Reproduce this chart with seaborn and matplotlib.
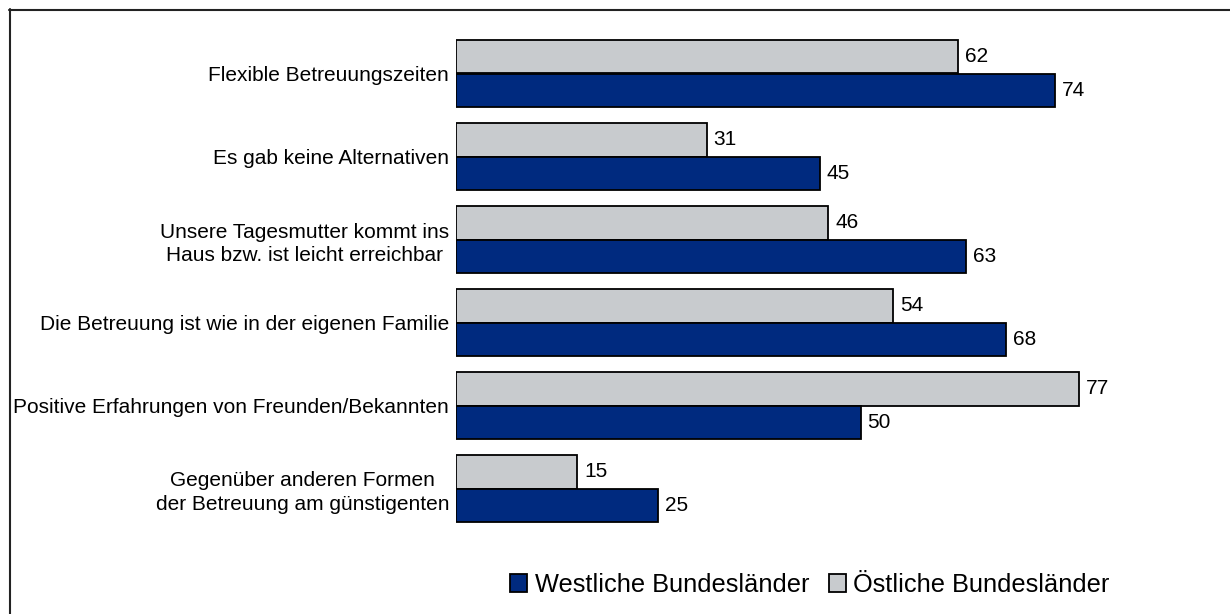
import numpy as np
import pandas as pd
import matplotlib
matplotlib.use("Agg")
import matplotlib.pyplot as plt
from matplotlib.patches import Patch
from matplotlib.lines import Line2D
import seaborn as sns

# ── DATA ────────────────────────────────────────────────────
categories = [
    "Flexible Betreuungszeiten",
    "Es gab keine Alternativen",
    "Unsere Tagesmutter kommt ins\nHaus bzw. ist leicht erreichbar",
    "Die Betreuung ist wie in der eigenen Familie",
    "Positive Erfahrungen von Freunden/Bekannten",
    "Gegenüber anderen Formen\nder Betreuung am günstigenten",
]
west_values = [74, 45, 63, 68, 50, 25]
east_values = [62, 31, 46, 54, 77, 15]
series_names = ["Westliche Bundesländer", "Östliche Bundesländer"]

colors = {"Westliche Bundesländer": "#002A7F", "Östliche Bundesländer": "#C8CBCE"}

df = pd.DataFrame({
    "Kategorie": categories * 2,
    "Wert": west_values + east_values,
    "Region": [series_names[0]] * len(categories) + [series_names[1]] * len(categories),
})

# ── PLOT ────────────────────────────────────────────────────
sns.set_style("white")
plt.rcParams['font.family'] = ['Liberation Sans', 'DejaVu Sans']
plt.rcParams['text.color'] = 'black'
plt.rcParams['ytick.color'] = 'black'

fig = plt.figure(figsize=(12.3, 6.14), dpi=100)
ax = fig.add_axes([456 / 1230, 1 - 530 / 614, (1190 - 456) / 1230, (530 - 32) / 614])

sns.barplot(data=df, y="Kategorie", x="Wert", hue="Region",
            hue_order=[series_names[1], series_names[0]], order=categories,
            palette=colors, saturation=1, orient="h", width=0.8,
            edgecolor="black", linewidth=1.3, ax=ax, legend=False)

for cont in ax.containers:
    ax.bar_label(cont, fmt="%g", padding=5, fontsize=15, color="black")

ax.set_xlim(0, (1190 - 456) / 8.09)
ax.set_xlabel("")
ax.set_ylabel("")
ax.set_xticks([])
ax.tick_params(axis="y", length=0, pad=5, labelsize=15, labelcolor="black")
for lab in ax.get_yticklabels():
    lab.set_multialignment("center")
    lab.set_linespacing(1.3)
sns.despine(ax=ax, left=True, bottom=True)

# legend (West first, as in the original)
handles = [Patch(facecolor=colors[n], edgecolor="black", linewidth=1.3) for n in series_names]
fig.legend(handles, series_names, loc="center", bbox_to_anchor=(810 / 1230, 1 - 585 / 614),
           ncol=2, frameon=False, fontsize=18.3, handlelength=0.67, handleheight=0.67,
           handletextpad=0.3, columnspacing=0.75)

# outer frame (top + left line)
fig.add_artist(Line2D([9 / 1230, 1], [1 - 9.5 / 614, 1 - 9.5 / 614], color="#222222", lw=1.5))
fig.add_artist(Line2D([9.5 / 1230, 9.5 / 1230], [0, 1 - 9 / 614], color="#222222", lw=1.5))

plt.savefig("out.png", dpi=100)
